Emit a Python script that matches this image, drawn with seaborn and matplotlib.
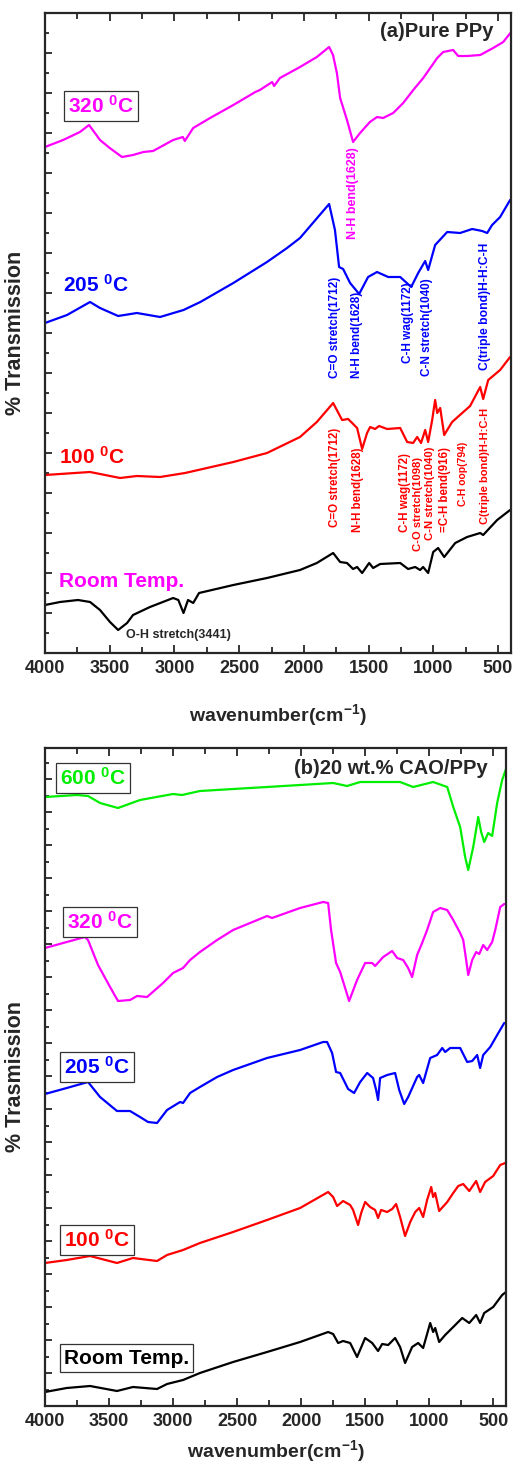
import numpy as np
import pandas as pd
import matplotlib
matplotlib.use('Agg')
import matplotlib.pyplot as plt
from matplotlib.ticker import MultipleLocator, NullFormatter
import seaborn as sns

# ---------------- data (offset % transmission, arbitrary units) ----------------
# panel (a) pure PPy
a320_wn = [4000, 3860, 3730, 3660, 3575, 3500, 3405, 3320, 3240, 3165, 3010, 2935, 2920, 2855, 2725,
           2545, 2375, 2340, 2245, 2230, 2185, 2030, 1900, 1805, 1775, 1745, 1720, 1667, 1620, 1566,
           1490, 1435, 1388, 1310, 1233, 1155, 1078, 970, 924, 847, 808, 739, 638, 538, 460, 405]
a320_t = [506, 513, 521, 528, 513, 505, 496, 498, 501, 502, 513, 516, 512, 525, 535,
          548, 561, 563, 571, 567, 575, 586, 596, 606, 598, 580, 555, 533, 511, 520,
          531, 536, 535, 540, 550, 563, 575, 595, 601, 603, 597, 597, 598, 605, 611, 620]

a205_wn = [4000, 3830, 3652, 3575, 3435, 3290, 3111, 2930, 2800, 2545, 2285, 2130, 2030, 1805, 1760,
           1728, 1697, 1643, 1573, 1504, 1435, 1349, 1256, 1171, 1117, 1063, 1040, 986, 893, 793,
           700, 623, 584, 546, 484, 407]
a205_t = [330, 338, 351, 345, 337, 340, 336, 343, 351, 370, 391, 405, 415, 449, 423,
          386, 384, 370, 359, 376, 381, 376, 376, 366, 380, 392, 383, 408, 421, 420,
          424, 422, 420, 428, 436, 453]

a100_wn = [4000, 3652, 3420, 3290, 3111, 2918, 2545, 2285, 2030, 1900, 1774, 1705, 1658, 1589, 1550,
           1512, 1488, 1450, 1419, 1357, 1256, 1202, 1156, 1125, 1095, 1063, 1040, 1009, 986, 970,
           947, 916, 855, 777, 716, 638, 615, 576, 484, 407]
a100_t = [178, 181, 175, 177, 176, 180, 191, 200, 216, 231, 250, 233, 234, 225, 204,
          220, 226, 224, 227, 224, 225, 211, 210, 216, 210, 223, 211, 233, 253, 240,
          245, 218, 231, 240, 247, 266, 254, 273, 283, 296]

art_wn = [4000, 3884, 3745, 3652, 3575, 3498, 3435, 3366, 3320, 3189, 3010, 2970, 2930, 2895, 2855,
          2810, 2545, 2285, 2030, 1900, 1774, 1720, 1667, 1620, 1589, 1550, 1496, 1465, 1411, 1256,
          1195, 1140, 1102, 1079, 1040, 1001, 963, 916, 831, 739, 638, 615, 507, 407]
art_t = [48, 51, 53, 51, 43, 31, 23, 30, 38, 46, 55, 53, 40, 53, 50,
         60, 68, 75, 83, 90, 100, 91, 90, 84, 86, 80, 90, 85, 89, 90,
         84, 86, 83, 86, 80, 101, 105, 96, 110, 116, 120, 118, 133, 143]

# panel (b) 20 wt.% CAO/PPy
b600_wn = [4000, 3750, 3664, 3570, 3430, 3258, 3000, 2930, 2790, 2266, 1750, 1641, 1539, 1227, 1125,
           969, 859, 812, 758, 719, 695, 656, 617, 594, 570, 539, 508, 469, 430, 400]
b600_t = [609, 611, 610, 603, 598, 606, 612, 611, 615, 619, 623, 620, 624, 624, 619,
          624, 619, 599, 579, 549, 536, 559, 589, 574, 564, 573, 570, 603, 626, 637]

b320_wn = [4000, 3830, 3688, 3664, 3586, 3492, 3430, 3336, 3281, 3203, 3078, 3000, 2922, 2867, 2790,
           2656, 2531, 2266, 2227, 2008, 1828, 1789, 1766, 1727, 1695, 1625, 1563, 1500, 1445, 1422,
           1359, 1289, 1250, 1203, 1164, 1133, 1094, 1055, 1016, 969, 914, 859, 812, 758, 734,
           711, 695, 664, 633, 609, 578, 547, 508, 484, 445, 414]
b320_t = [458, 464, 469, 466, 441, 419, 405, 406, 410, 409, 423, 433, 438, 446, 454,
          466, 476, 490, 488, 498, 504, 503, 476, 443, 434, 405, 426, 443, 443, 440,
          449, 455, 448, 446, 438, 429, 451, 463, 476, 494, 498, 496, 486, 473, 466,
          446, 431, 446, 454, 452, 461, 456, 464, 476, 499, 502]

b205_wn = [4000, 3830, 3664, 3570, 3438, 3336, 3258, 3195, 3125, 3047, 2945, 2922, 2867, 2790, 2656,
           2531, 2266, 2008, 1828, 1797, 1758, 1727, 1695, 1633, 1586, 1539, 1484, 1438, 1414, 1399,
           1383, 1328, 1266, 1234, 1195, 1164, 1094, 1078, 1047, 1023, 992, 938, 898, 875, 836,
           758, 703, 664, 625, 602, 578, 523, 469, 414]
b205_t = [312, 318, 324, 309, 295, 295, 289, 284, 283, 296, 304, 303, 313, 319, 329,
          336, 348, 356, 364, 364, 353, 334, 333, 317, 313, 324, 333, 328, 316, 306,
          328, 331, 333, 316, 302, 309, 329, 331, 323, 334, 348, 351, 358, 354, 358,
          358, 344, 345, 351, 338, 351, 359, 371, 383]

b100_wn = [4000, 3830, 3648, 3438, 3313, 3125, 3047, 2922, 2790, 2531, 2266, 2008, 1789, 1750, 1719,
           1672, 1617, 1594, 1555, 1531, 1500, 1461, 1422, 1399, 1375, 1328, 1289, 1258, 1227, 1188,
           1148, 1109, 1078, 1047, 1016, 984, 969, 953, 922, 859, 812, 773, 734, 687, 633,
           602, 563, 500, 445, 406]
b100_t = [143, 146, 150, 143, 148, 145, 151, 156, 163, 174, 186, 198, 214, 209, 200,
          205, 201, 196, 181, 193, 204, 199, 196, 188, 196, 194, 197, 202, 189, 170,
          184, 194, 198, 189, 206, 219, 209, 213, 195, 204, 213, 220, 222, 215, 225,
          214, 224, 230, 241, 243]

brt_wn = [4000, 3830, 3648, 3438, 3313, 3125, 3047, 2922, 2790, 2531, 2266, 2008, 1789, 1750, 1711,
          1672, 1617, 1563, 1500, 1445, 1399, 1367, 1320, 1266, 1227, 1188, 1133, 1086, 1047, 992,
          969, 953, 922, 875, 812, 742, 687, 633, 602, 570, 500, 430, 400]
brt_t = [14, 18, 20, 15, 19, 17, 22, 26, 33, 44, 54, 64, 74, 72, 63,
         65, 63, 49, 68, 63, 55, 62, 61, 68, 59, 43, 59, 63, 58, 83,
         74, 78, 64, 71, 79, 88, 83, 91, 83, 93, 99, 111, 114]

# band assignments (label, wavenumber position, top of text, font size)
nh_320_label = [('N-H bend(1628)', 1620, 506, 9)]
blue_labels = [('C=O stretch(1712)', 1759, 376, 8.5), ('N-H bend(1628)', 1589, 361, 8.5),
               ('C-H wag(1172)', 1195, 371, 8.5), ('C-N stretch(1040)', 1048, 375, 8.5),
               ('C(triple bond)H-H:C-H', 600, 410, 8.7)]
red_labels = [('C=O stretch(1712)', 1759, 225, 8.3), ('N-H bend(1628)', 1581, 205, 8.3),
              ('C-H wag(1172)', 1218, 200, 8.3), ('C-O stretch(1098)', 1117, 196, 8.1),
              ('C-N stretch(1040)', 1025, 206, 8.1), ('=C-H bend(916)', 909, 206, 8.3),
              ('C-H oop(794)', 770, 211, 7.5), ('C(triple bond)H-H:C-H', 600, 245, 8.0)]

MAG, BLU, RED, GRN, BLK = '#ff00ff', '#0000ff', '#ff0000', '#00ee00', '#000000'

sns.set_style('ticks')
plt.rcParams['font.family'] = ['Liberation Sans', 'DejaVu Sans']
plt.rcParams['font.weight'] = 'bold'
plt.rcParams['mathtext.fontset'] = 'custom'
plt.rcParams['mathtext.rm'] = 'Liberation Sans:bold'
plt.rcParams['mathtext.bf'] = 'Liberation Sans:bold'
plt.rcParams['mathtext.it'] = 'Liberation Sans:bold'
plt.rcParams['mathtext.default'] = 'bf'

fig = plt.figure(figsize=(5.15, 14.63), dpi=100)
ax1 = fig.add_axes([45 / 515, 810 / 1463, 466 / 515, 640 / 1463])
ax2 = fig.add_axes([45 / 515, 57 / 1463, 461 / 515, 658 / 1463])


def draw(ax, wn, t, color):
    df = pd.DataFrame({'wn': wn, 't': t})
    sns.lineplot(data=df, x='wn', y='t', color=color, lw=1.6, sort=False,
                 estimator=None, ax=ax, solid_joinstyle='round')


def style(ax, ymax, ymaj, ylab, pad):
    ax.set_xlim(4000, 400)
    ax.set_ylim(0, ymax)
    ax.xaxis.set_major_locator(MultipleLocator(500))
    ax.xaxis.set_minor_locator(MultipleLocator(250))
    ax.yaxis.set_major_locator(MultipleLocator(ymaj))
    ax.yaxis.set_minor_locator(MultipleLocator(ymaj / 2))
    ax.yaxis.set_major_formatter(NullFormatter())
    ax.tick_params(axis='x', which='both', direction='in', top=True, width=1.3,
                   labelsize=13, pad=5)
    ax.tick_params(axis='x', which='major', length=6)
    ax.tick_params(axis='x', which='minor', length=4)
    ax.tick_params(axis='y', which='both', direction='in', width=1.3)
    ax.tick_params(axis='y', which='major', length=5)
    ax.tick_params(axis='y', which='minor', length=3)
    for lab in ax.get_xticklabels():
        lab.set_fontweight('bold')
    for s in ax.spines.values():
        s.set_linewidth(1.6)
    ax.set_xlabel('wavenumber(cm$^{-1}$)', fontsize=14, fontweight='bold', labelpad=pad)
    ax.set_ylabel(ylab, fontsize=15.5, fontweight='bold', labelpad=10)


# ---- panel a ----
draw(ax1, a320_wn, a320_t, MAG)
draw(ax1, a205_wn, a205_t, BLU)
draw(ax1, a100_wn, a100_t, RED)
draw(ax1, art_wn, art_t, BLK)
style(ax1, 640, 40, '% Transmission', 18)

box = dict(boxstyle='square,pad=0.2', fc='white', ec='#333333', lw=0.9)
ax1.text(3822, 547, '320 $^0$C', color=MAG, fontsize=15, fontweight='bold', va='center', bbox=box)
ax1.text(3861, 368, '205 $^0$C', color=BLU, fontsize=15, fontweight='bold', va='center')
ax1.text(3892, 196, '100 $^0$C', color=RED, fontsize=15, fontweight='bold', va='center')
ax1.text(3892, 71, 'Room Temp.', color=MAG, fontsize=15, fontweight='bold', va='center')
ax1.text(538, 621, '(a)Pure PPy', fontsize=14.5, fontweight='bold', ha='right', va='center')
ax1.text(3374, 18, 'O-H stretch(3441)', fontsize=9, fontweight='bold', va='center')

for labels, col in [(nh_320_label, MAG), (blue_labels, BLU), (red_labels, RED)]:
    for txt, x, y, fs in labels:
        ax1.text(x, y, txt, color=col, fontsize=fs, fontweight='bold', rotation=90,
                 ha='center', va='top')

# ---- panel b ----
draw(ax2, b600_wn, b600_t, GRN)
draw(ax2, b320_wn, b320_t, MAG)
draw(ax2, b205_wn, b205_t, BLU)
draw(ax2, b100_wn, b100_t, RED)
draw(ax2, brt_wn, brt_t, BLK)
style(ax2, 658, 33, '% Trasmission', 6)

for txt, x, y, col in [('600 $^0$C', 3883, 628, GRN), ('320 $^0$C', 3828, 484, MAG),
                       ('205 $^0$C', 3852, 339, BLU), ('100 $^0$C', 3852, 166, RED),
                       ('Room Temp.', 3852, 48, BLK)]:
    ax2.text(x, y, txt, color=col, fontsize=15, fontweight='bold', va='center', bbox=box)
ax2.text(539, 638, '(b)20 wt.% CAO/PPy', fontsize=14.5, fontweight='bold', ha='right', va='center')

fig.savefig('out.png', dpi=100)
